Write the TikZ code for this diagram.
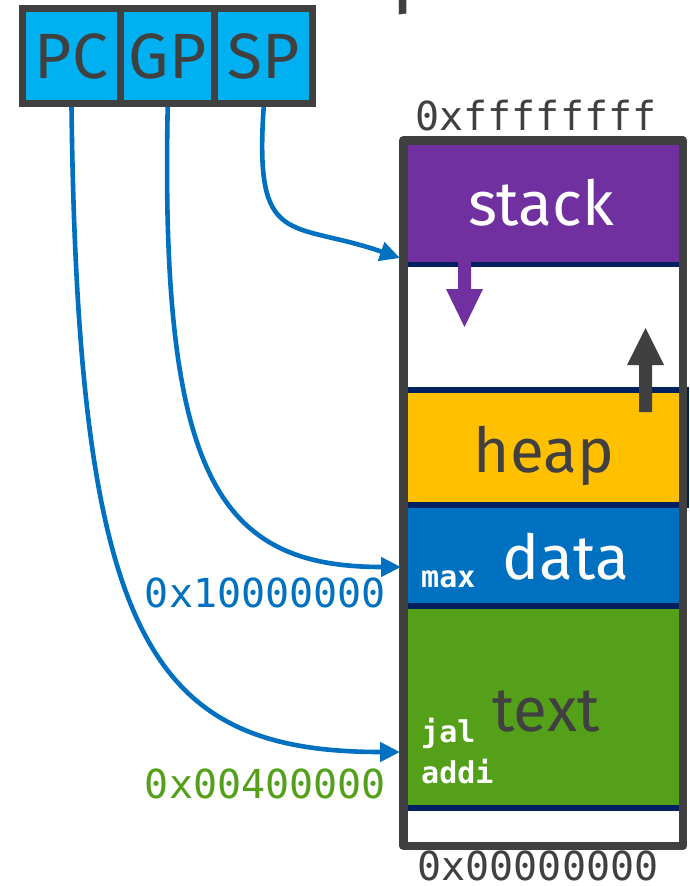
\documentclass[tikz,border=0pt]{standalone}
\usepackage{fontspec}
\setmainfont{Fira Sans}
\newfontfamily\codefont{DejaVu Sans Mono}
\usetikzlibrary{arrows.meta}
\definecolor{regcyan}{HTML}{00B0F0}
\definecolor{inkgray}{HTML}{404040}
\definecolor{stackpurple}{HTML}{7030A0}
\definecolor{navy}{HTML}{002060}
\definecolor{heapgold}{HTML}{FFC000}
\definecolor{datablue}{HTML}{0070C0}
\definecolor{textgreen}{HTML}{54A019}
\begin{document}
\begin{tikzpicture}[x=1pt,y=-1pt,
  reg/.style={draw=inkgray, fill=regcyan, line width=6.7pt, inner sep=0pt,
    minimum height=95.3pt, text=inkgray, font=\fontsize{64}{70}\selectfont},
  seglabel/.style={inner sep=0pt, anchor=base, font=\fontsize{62}{70}\selectfont},
  addr/.style={inner sep=0pt, anchor=base, font=\codefont\fontsize{40}{44}\selectfont},
  instr/.style={inner sep=0pt, anchor=base west, text=white,
    font=\codefont\bfseries\fontsize{30}{34}\selectfont},
  ptr/.style={draw=datablue, line width=4.6pt, -{Triangle[length=20pt,width=19pt]}},
  divider/.style={draw=navy, line width=5.5pt}
]
\clip (0,0) rectangle (690,886);
\fill[white] (0,0) rectangle (690,886);

% heading, mostly above the page edge
\node[inner sep=0pt, anchor=base west, text=inkgray,
  font=\fontsize{82}{84}\selectfont] (title) at (391,-2.5) {process};

% register file
\node[reg, minimum width=98.35pt] (pc) at (71.5,56) {PC};
\node[reg, minimum width=94pt]    (gp) at (167.7,56) {GP};
\node[reg, minimum width=97.95pt] (sp) at (263.7,56) {SP};

% memory segments
\fill[stackpurple] (403,140) rectangle (683,264.5);
\fill[heapgold]    (403,390) rectangle (683,505);
\fill[datablue]    (403,505) rectangle (683,606);
\fill[textgreen]   (403,606) rectangle (683,808);
\foreach \yy in {264.5,390,505,606,808}
  \draw[divider] (403,\yy) -- (683,\yy);
\fill[navy] (686,387) rectangle (688.5,508);

% growth directions
\fill[stackpurple] (458,262) -- (471,262) -- (471,289) -- (483,289)
  -- (464.5,327) -- (446,289) -- (458,289) -- cycle;
\fill[inkgray] (639,412) -- (652,412) -- (652,365) -- (664,365)
  -- (645.5,328) -- (627,365) -- (639,365) -- cycle;

% address space outline
\draw[inkgray, line width=8.5pt, line join=round]
  (403.25,140.25) rectangle (682.75,845.75);

% segment names
\node[seglabel, text=white]   (stacklbl) at (541,225) {stack};
\node[seglabel, text=inkgray] (heaplbl)  at (544,472) {heap};
\node[seglabel, text=white]   (datalbl)  at (566,579) {data};
\node[seglabel, text=inkgray] (textlbl)  at (546,731) {text};
\node[instr] (maxlbl)  at (421,587) {max};
\node[instr] (jallbl)  at (421,742) {jal};
\node[instr] (addilbl) at (421,783) {addi};

% addresses
\node[addr, text=inkgray] (hiaddr) at (536,130) {0xffffffff};
\node[addr, text=inkgray] (loaddr) at (538,880) {0x00000000};
\node[addr, anchor=base east, text=datablue]  (gpaddr) at (386,607) {0x10000000};
\node[addr, anchor=base east, text=textgreen] (pcaddr) at (386,798) {0x00400000};

% register pointers
\coordinate (spend) at (400,258);
\coordinate (gpend) at (401,567);
\coordinate (pcend) at (400,752);
\draw[ptr] (sp.south) .. controls (254,250) and (290,220) .. (spend);
\draw[ptr] (gp.south) .. controls (160,480) and (220,567) .. (gpend);
\draw[ptr] (pc.south) .. controls (78,640) and (150,752) .. (pcend);
\end{tikzpicture}
\end{document}
